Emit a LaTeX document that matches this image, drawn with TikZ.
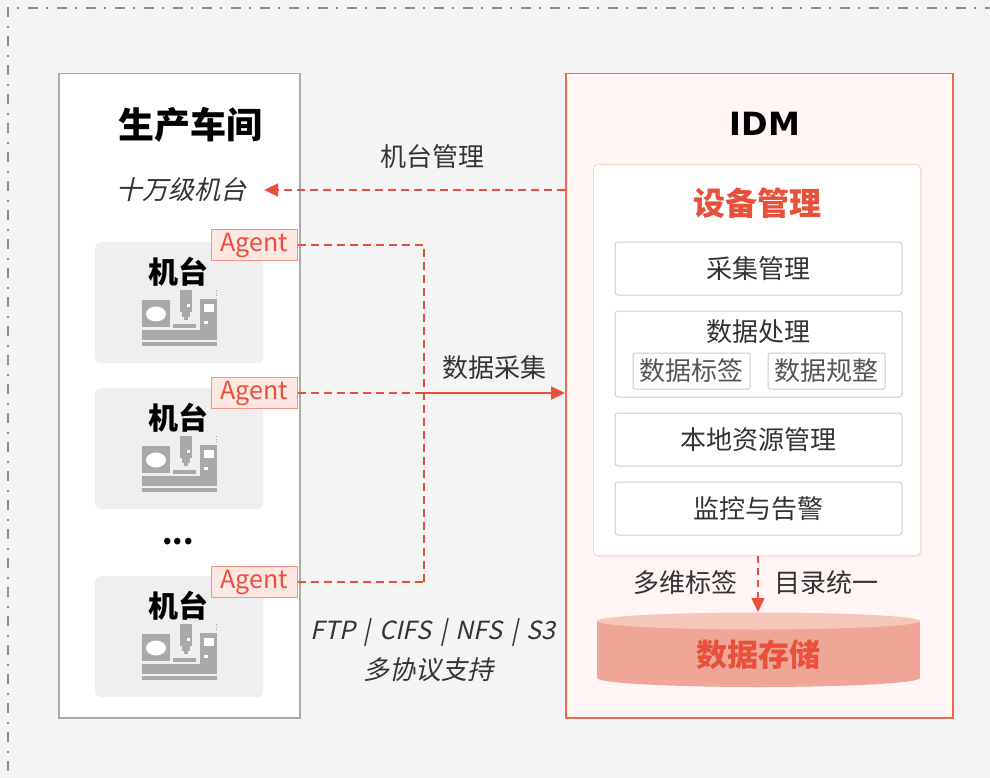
\documentclass[tikz,border=0pt]{standalone}
\usepackage{fontspec}
\setmainfont{Noto Sans CJK SC}
\newfontfamily\cjkit[FakeSlant=0.22]{Noto Sans CJK SC}
\newfontfamily\latinbold{DejaVu Sans}
\usetikzlibrary{arrows.meta,shadows}

\definecolor{bgc}{HTML}{F4F4F4}
\definecolor{framec}{HTML}{8C8C8C}
\definecolor{redc}{HTML}{E9503B}
\definecolor{idmborder}{HTML}{EA6A52}
\definecolor{idmfill}{HTML}{FFF5F4}
\definecolor{txt}{HTML}{333333}
\definecolor{subtxt}{HTML}{555555}
\definecolor{machfill}{HTML}{EFEFEF}
\definecolor{iconc}{HTML}{A9A9A9}
\definecolor{agentfill}{HTML}{FDE7E3}
\definecolor{agentdraw}{HTML}{F19585}
\definecolor{subdraw}{HTML}{CCCCCC}
\definecolor{cardborder}{HTML}{F6D8D3}
\definecolor{cylbody}{HTML}{F0A696}
\definecolor{cyltop}{HTML}{F6C6BC}
\definecolor{panelborder}{HTML}{AAAAAA}

\newcommand{\fsz}[1]{\fontsize{#1}{#1}\selectfont}
\newcommand{\sepbar}{\kern9pt|\kern9pt}

\tikzset{
  panel/.style={draw=panelborder, line width=1.5pt, fill=white, inner sep=0pt, anchor=north west},
  machbox/.style={fill=machfill, rounded corners=5pt, inner sep=0pt, minimum width=168pt, minimum height=121pt, anchor=north west},
  agentbox/.style={draw=agentdraw, line width=1pt, fill=agentfill, inner sep=0pt, minimum width=86pt, minimum height=31pt, text=redc, font=\fsz{25}},
  subbox/.style={draw=subdraw, line width=1pt, fill=white, rounded corners=3pt, inner sep=0pt, minimum width=287pt, minimum height=53pt, text=txt, font=\fsz{26}},
  tagbox/.style={draw=subdraw, line width=1pt, fill=white, rounded corners=1.5pt, inner sep=0pt, minimum width=117pt, minimum height=36pt, text=subtxt, font=\fsz{26}},
  lbl/.style={text=txt, font=\fsz{26}, inner sep=0pt},
  itlbl/.style={text=txt, font=\cjkit\fsz{26}, inner sep=0pt},
  reddash/.style={draw=redc, line width=2pt, dash pattern=on 8pt off 5pt},
  redtip/.style={-{Triangle[length=14pt,width=13pt]}},
  machine/.pic={
    % left cabinet with round window
    \fill[iconc] (0,10) rectangle (28,37);
    \fill[white] (14,24) ellipse [x radius=10, y radius=7.5];
    % spindle column
    \fill[iconc] (38,0) rectangle (50,22);
    \fill[iconc] (40,22) rectangle (48,27);
    \fill[iconc] (42,27) rectangle (46,30);
    \fill[white] (45,14) rectangle (47.5,17);
    % work table
    \fill[iconc] (31,34) rectangle (54,38);
    % control cabinet
    \fill[iconc] (58,9) rectangle (75,40);
    \fill[white] (61.5,13.5) rectangle (71.5,21.5);
    \fill[white] (62,31) rectangle (66,34);
    \foreach \k in {0,2.5,5} {\fill[iconc] (73.5,\k) rectangle (75,\k+1.3);}
    % base and feet
    \fill[iconc] (0,40) rectangle (75,50);
    \fill[iconc] (0,52) rectangle (75,55.5);
  }
}

\begin{document}
\begin{tikzpicture}[x=1pt, y=-1pt]
  \useasboundingbox (0,0) rectangle (990,778);
  \clip (0,0) rectangle (990,778);
  \fill[bgc] (0,0) rectangle (990,778);

  % outer dash-dot frame
  \draw[framec, line width=2pt, dash pattern=on 10pt off 8pt on 2pt off 9pt]
    (8,800) -- (8,8) -- (1010,8);

  % ---------- workshop panel ----------
  \node[panel, minimum width=241pt, minimum height=644pt] (shop) at (58,73) {};
  \node[font=\bfseries\fsz{36}, text=black, inner sep=0pt] (shoptitle) at (190,125) {生产车间};
  \node[itlbl] (shiwan) at (181,190) {十万级机台};

  \node[machbox] (m1) at (95,242) {};
  \node[machbox] (m2) at (95,388) {};
  \node[machbox] (m3) at (95,576) {};
  \node[font=\bfseries\fsz{30}, inner sep=0pt] (m1t) at (178,272) {机台};
  \node[font=\bfseries\fsz{30}, inner sep=0pt] (m2t) at (178,418) {机台};
  \node[font=\bfseries\fsz{30}, inner sep=0pt] (m3t) at (178,606) {机台};
  \pic at (142,290) {machine};
  \pic at (142,436) {machine};
  \pic at (142,624) {machine};
  \node[font=\bfseries\fsz{30}, inner sep=0pt] (dots) at (178,542) {...};

  \node[agentbox] (a1) at (254,245) {Agent};
  \node[agentbox] (a2) at (254,393) {Agent};
  \node[agentbox] (a3) at (254,582) {Agent};

  % ---------- IDM panel ----------
  \node[panel, draw=idmborder, fill=idmfill, minimum width=387pt, minimum height=644pt] (idm) at (565,73) {};
  \node[font=\latinbold\bfseries\fsz{32}, text=black, inner sep=0pt] (idmtitle) at (765,124) {IDM};

  \node[draw=cardborder, line width=1pt, fill=white, rounded corners=4pt, inner sep=0pt,
        minimum width=327pt, minimum height=391pt, anchor=north west,
        drop shadow={opacity=0.08, shadow xshift=1.5pt, shadow yshift=-1.5pt}] (card) at (593,164) {};
  \node[font=\bfseries\fsz{32}, text=redc, inner sep=0pt] (cardtitle) at (757,203) {设备管理};

  \node[subbox] (collect) at (758.5,268.5) {采集管理};
  \node[subbox, minimum height=86pt] (proc) at (758.5,354) {};
  \node[lbl] (proct) at (758,332) {数据处理};
  \node[tagbox] (tag) at (691.5,371) {数据标签};
  \node[tagbox] (norm) at (826.5,371) {数据规整};
  \node[subbox] (local) at (758.5,439.5) {本地资源管理};
  \node[subbox] (alarm) at (758.5,508.5) {监控与告警};

  % data storage cylinder
  \fill[cylbody] (597,621) rectangle (920,678);
  \fill[cylbody] (758.5,678) ellipse [x radius=161.5, y radius=9];
  \fill[cyltop] (758.5,621) ellipse [x radius=161.5, y radius=8.5];
  \node[font=\bfseries\fsz{31}, text=redc, inner sep=0pt] (store) at (758,655) {数据存储};
  \coordinate (storetop) at (758,612);

  \node[lbl] (multitag) at (685,583) {多维标签};
  \node[lbl] (catalog) at (826,583) {目录统一};

  % ---------- connectors ----------
  % machine management: IDM -> machines
  \draw[reddash, redtip] (idm.west |- shiwan) -- ([xshift=18pt]shiwan.east);
  \node[lbl] (mgmt) at (432,157) {机台管理};

  % agents -> collection bus
  \coordinate (j1) at (424,0 |- a1.east);
  \coordinate (j2) at (424,0 |- a2.east);
  \coordinate (j3) at (424,0 |- a3.east);
  \draw[reddash] (a1.east) -- (j1) -- (j3);
  \draw[reddash] (a3.east) -- (j3);
  \draw[reddash] (a2.east) -- (j2);
  \draw[draw=redc, line width=2pt, redtip] (j2) -- (idm.west |- j2);
  \node[lbl] (collectlbl) at (494,368) {数据采集};

  \node[itlbl, font=\cjkit\fsz{25}] (proto) at (433,633) {FTP\sepbar CIFS\sepbar NFS\sepbar S3};
  \node[itlbl] (multi) at (428,670) {多协议支持};

  % device management -> storage
  \draw[reddash, line width=1.6pt, dash pattern=on 7pt off 5pt, redtip] (card.south -| storetop) -- (storetop);
\end{tikzpicture}
\end{document}
